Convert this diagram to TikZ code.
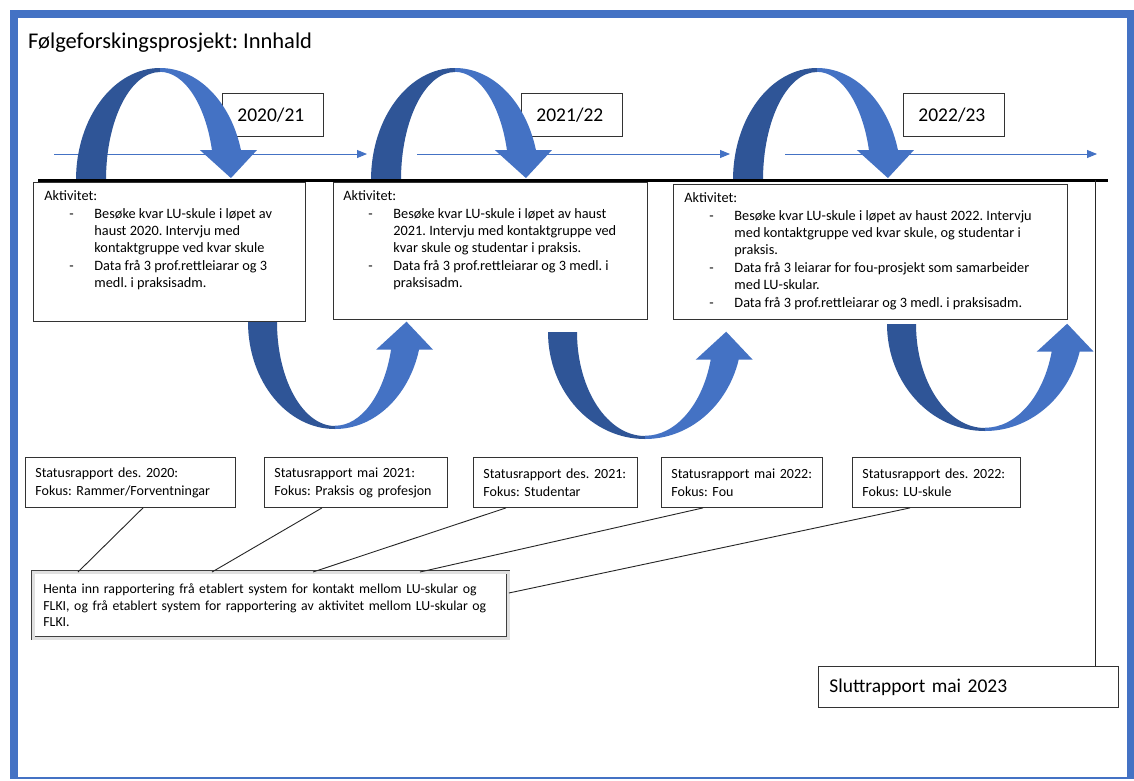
\documentclass[tikz,border=0pt]{standalone}
\usepackage{fontspec}
\setmainfont{Carlito}
\usepackage{tikz}
\usetikzlibrary{calc,positioning,arrows.meta,shadows}
\frenchspacing

\definecolor{frameblue}{RGB}{68,114,196}
\definecolor{arcdark}{RGB}{47,85,151}
\definecolor{arclight}{RGB}{68,114,196}

\newcommand{\dashitem}[1]{\par\vspace{1.5pt}\hangindent=50pt\hangafter=1\noindent\hspace*{25pt}\makebox[25pt][l]{-}#1}
\newcommand{\statlines}[2]{\mbox{#1}\\\mbox{#2}}

\tikzset{
	box/.style={draw=black!80, line width=0.9pt, anchor=north west, fill=white},
	yearbox/.style={box, inner xsep=15pt, text width=71pt, minimum height=43pt, align=left, font=\fontsize{19.5}{22}\selectfont},
	actbox/.style={box, inner xsep=11pt, inner ysep=8pt, font=\fontsize{14.3}{16.8}\selectfont},
	statbox/.style={box, inner xsep=10pt, minimum height=50pt, align=left, font=\fontsize{14}{18}\selectfont},
	hentabox/.style={box, draw=black!75, line width=0.8pt, double=black!12, double distance=2.5pt, inner xsep=10pt, minimum height=66pt, text width=455pt, align=left, font=\fontsize{13.8}{16.5}\selectfont, drop shadow={shadow xshift=2pt, shadow yshift=-2pt, fill=black!55}},
	thinarrow/.style={draw=frameblue, line width=0.9pt, -{Triangle[length=10pt,width=8pt]}},
	link/.style={draw=black!85, line width=0.9pt}
}

\begin{document}
\begin{tikzpicture}[x=1pt, y=-1pt]
	\useasboundingbox (0,0) rectangle (1134,780);
	
	%%frame%%
	\fill[frameblue] (10,10) rectangle (1134,779);
	\fill[white] (18,18) rectangle (1127,777);
	
	\node[anchor=base west, inner sep=0pt, font=\fontsize{22.5}{27}\selectfont] (title) at (28,48) {Følgeforskingsprosjekt: Innhald};
	
	%%time arrows%%
	\foreach \a/\b [count=\i] in {54/367, 417/730, 785/1097}{
		\coordinate (ta\i-s) at (\a,154);
		\coordinate (ta\i-e) at (\b,154);
		\draw[thinarrow] (ta\i-s) -- (ta\i-e);
	}
	
	\node[yearbox] (y1) at (222,93) {2020/21};
	\node[yearbox] (y2) at (521,93) {2021/22};
	\node[yearbox] (y3) at (903,93) {2022/23};
	
	%%curved arrows over the line%%
	\foreach \cx in {160,455,817}{
		\fill[arcdark] (\cx-84,180) arc[start angle=180, end angle=270, x radius=84, y radius=112]
			-- ++(0,4) arc[start angle=270, end angle=180, x radius=54, y radius=108] -- cycle;
		\fill[arclight] (\cx,68) arc[start angle=270, end angle=344.5, x radius=84, y radius=112]
			-- ++(16,0) -- ++(-26,28) -- ++(-31,-28) -- ++(12,0)
			arc[start angle=344, end angle=270, x radius=54, y radius=108] -- cycle;
	}
	
	\coordinate (tl-l) at (38,180);
	\coordinate (tl-r) at (1108,180);
	\draw[line width=3pt] (tl-l) -- (tl-r);
	
	%%activity boxes%%
	\node[actbox] (act1) at (33,182) {\parbox[c][123pt][t]{250pt}{
		Aktivitet:
		\dashitem{Besøke kvar LU-skule i løpet av\\ haust 2020. Intervju med\\ kontaktgruppe ved kvar skule}
		\dashitem{Data frå 3 prof.rettleiarar og 3\\ medl. i praksisadm.}}};
	\node[actbox, inner xsep=10pt] (act2) at (333,182) {\parbox[c][121pt][t]{294pt}{
		Aktivitet:
		\dashitem{Besøke kvar LU-skule i løpet av haust\\ 2021. Intervju med kontaktgruppe ved\\ kvar skule og studentar i praksis.}
		\dashitem{Data frå 3 prof.rettleiarar og 3 medl. i\\ praksisadm.}}};
	\node[actbox] (act3) at (673,184) {\parbox[c][119pt][t]{372pt}{
		Aktivitet:
		\dashitem{Besøke kvar LU-skule i løpet av haust 2022. Intervju\\ med kontaktgruppe ved kvar skule, og studentar i\\ praksis.}
		\dashitem{Data frå 3 leiarar for fou-prosjekt som samarbeider\\ med LU-skular.}
		\dashitem{Data frå 3 prof.rettleiarar og 3 medl. i praksisadm.}}};
	
	%%curved arrows under the boxes%%
	\foreach \L/\T/\r in {248/322/87, 548/332/97, 887/324/98}{
		\fill[arcdark] (\L,\T) arc[start angle=180, end angle=90, x radius=\r, y radius=107]
			-- ++(0,-3) arc[start angle=90, end angle=180, x radius=\r-29, y radius=104] -- cycle;
		\fill[arclight] (\L+\r,\T+107) arc[start angle=90, end angle=15, x radius=\r, y radius=107]
			-- ++(14,0) -- ++(-26.5,-28) -- ++(-30.5,28) -- ++(15,0)
			arc[start angle=15.6, end angle=90, x radius=\r-29, y radius=104] -- cycle;
	}
	
	%%status reports%%
	\node[statbox, text width=190pt] (s1) at (25,457) {\statlines{Statusrapport des. 2020:}{Fokus: Rammer/Forventningar}};
	\node[statbox, text width=163pt] (s2) at (264,457) {\statlines{Statusrapport mai 2021:}{Fokus: Praksis og profesjon}};
	\node[statbox, text width=144pt] (s3) at (473,457) {\statlines{Statusrapport des. 2021:}{Fokus: Studentar}};
	\node[statbox, text width=141pt] (s4) at (661,457) {\statlines{Statusrapport mai 2022:}{Fokus: Fou}};
	\node[statbox, text width=148pt] (s5) at (852,457) {\statlines{Statusrapport des. 2022:}{Fokus: LU-skule}};
	
	\node[hentabox] (henta) at (33,572) {Henta inn rapportering frå etablert system for kontakt mellom LU-skular og\\ FLKI, og frå etablert system for rapportering av aktivitet mellom LU-skular og\\ FLKI.};
	
	\draw[link] ([xshift=118pt]s1.south west) -- ([xshift=45pt]henta.north west);
	\draw[link] ([xshift=58pt]s2.south west) -- ([xshift=179pt]henta.north west);
	\draw[link] ([xshift=33pt]s3.south west) -- ([xshift=280pt]henta.north west);
	\draw[link] ([xshift=42pt]s4.south west) -- ([xshift=387pt]henta.north west);
	\draw[link] ([xshift=58pt]s5.south west) -- ([yshift=-21pt]henta.north east);
	
	%%final report%%
	\node[box, inner xsep=11pt, text width=278pt, minimum height=41pt, align=left, font=\fontsize{19.5}{22}\selectfont] (slutt) at (818,666) {Sluttrapport mai 2023};
	\coordinate (slutt-in) at (1095,180);
	\draw[link] (slutt-in) -- (slutt-in |- slutt.north);
\end{tikzpicture}
\end{document}
